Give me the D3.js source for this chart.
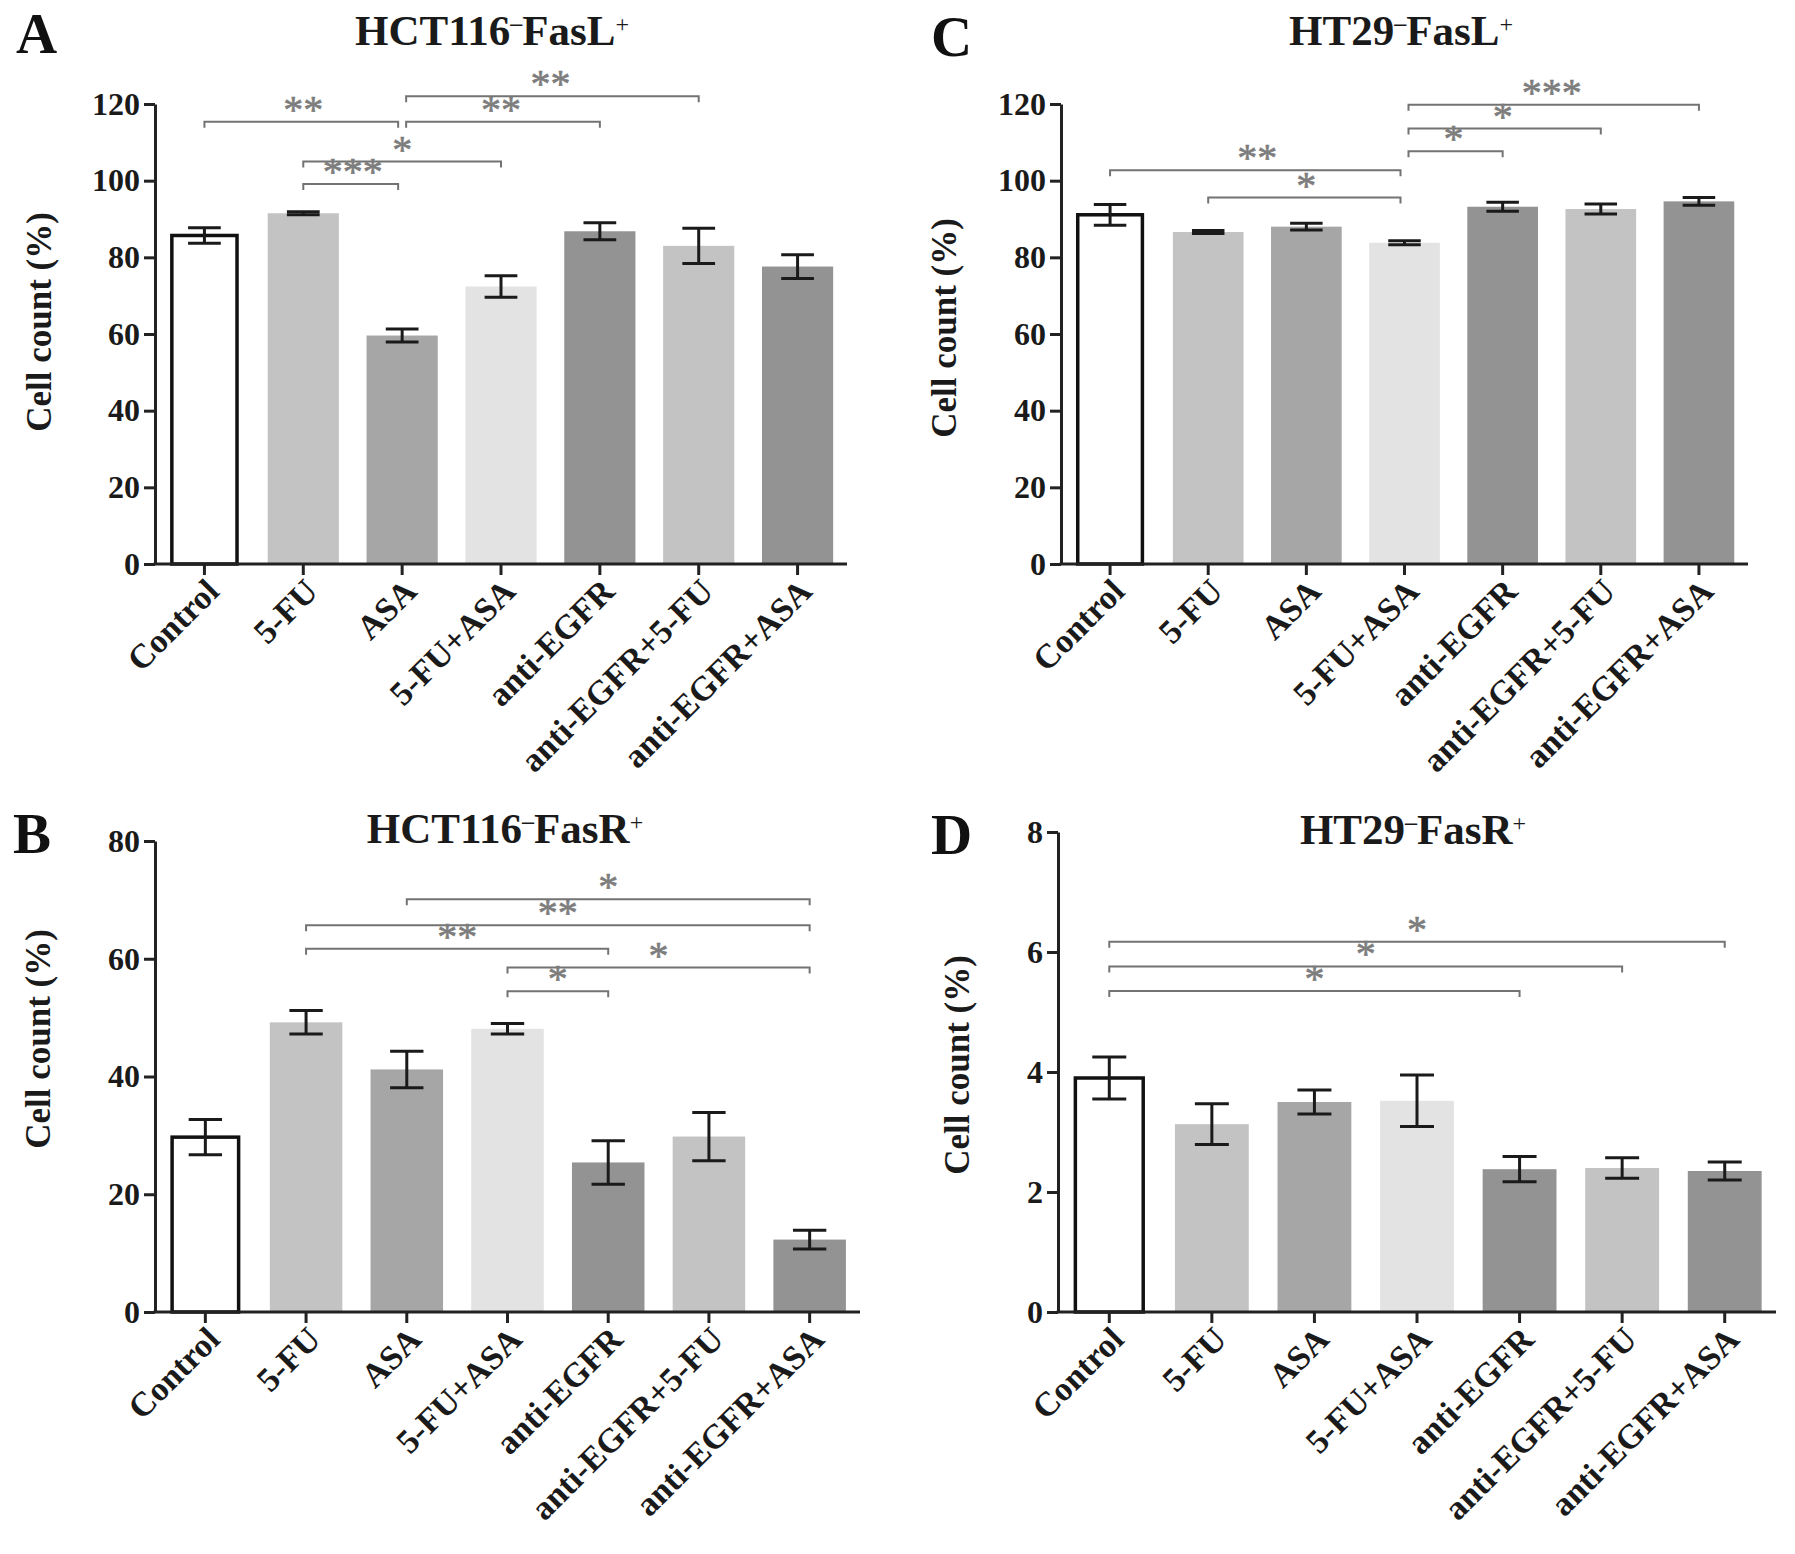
<!DOCTYPE html>
<html>
<head>
<meta charset="utf-8">
<script src="https://cdn.jsdelivr.net/npm/d3@7/dist/d3.min.js"></script>
<style>
  body { margin: 0; background: #fff; }
  svg { display: block; }
  text { font-family: "Liberation Serif", "Times New Roman", serif; }
</style>
</head>
<body>
<svg id="fig" width="1795" height="1554"></svg>
<script>
// treatment groups, same order in every panel
const groups = ["Control", "5-FU", "ASA", "5-FU+ASA", "anti-EGFR", "anti-EGFR+5-FU", "anti-EGFR+ASA"];
const barFills = ["#ffffff", "#c3c3c3", "#a6a6a6", "#e3e3e3", "#939393", "#c3c3c3", "#939393"];

// A: HCT116- FasL+
const meanA = [85.7, 91.5, 59.6, 72.4, 86.8, 83.0, 77.6];
const semA = [2.0, 0.4, 1.7, 2.8, 2.2, 4.6, 3.1];
// [from, to, level, stars]
const sigA = [[2, 5, 122.0, "**"], [0, 2, 115.4, "**"], [2, 4, 115.4, "**"], [1, 3, 105.0, "*"], [1, 2, 99.1, "***"]];

// B: HCT116- FasR+
const meanB = [29.7, 49.2, 41.2, 48.1, 25.4, 29.8, 12.3];
const semB = [3.0, 2.0, 3.1, 0.9, 3.7, 4.1, 1.6];
const sigB = [[2, 6, 70.1, "*"], [1, 6, 65.7, "**"], [1, 4, 61.7, "**"], [3, 6, 58.5, "*"], [3, 4, 54.5, "*"]];

// C: HT29- FasL+
const meanC = [91.1, 86.6, 88.0, 83.8, 93.2, 92.6, 94.6];
const semC = [2.7, 0.4, 0.9, 0.5, 1.2, 1.3, 1.0];
const sigC = [[3, 6, 119.8, "***"], [3, 5, 113.6, "*"], [3, 4, 107.7, "*"], [0, 3, 102.7, "**"], [1, 3, 95.6, "*"]];

// D: HT29- FasR+
const meanD = [3.90, 3.13, 3.50, 3.52, 2.38, 2.40, 2.35];
const semD = [0.35, 0.34, 0.20, 0.43, 0.21, 0.17, 0.15];
const sigD = [[0, 6, 6.17, "*"], [0, 5, 5.76, "*"], [0, 4, 5.35, "*"]];

const ticks120 = [0, 20, 40, 60, 80, 100, 120];
const ticks80 = [0, 20, 40, 60, 80];
const ticks8 = [0, 2, 4, 6, 8];

const panels = [
  { letter: "A", cell: "HCT116", rec: "FasL", mean: meanA, sem: semA, sig: sigA, yMax: 120, ticks: ticks120,
    xr: [155, 847], yr: [564, 104], letterAt: [16, 53], titleAt: [492, 45], ylabAt: [39, 322] },
  { letter: "B", cell: "HCT116", rec: "FasR", mean: meanB, sem: semB, sig: sigB, yMax: 80, ticks: ticks80,
    xr: [155, 860], yr: [1312, 841], letterAt: [13, 853], titleAt: [505, 843], ylabAt: [38, 1039] },
  { letter: "C", cell: "HT29", rec: "FasL", mean: meanC, sem: semC, sig: sigC, yMax: 120, ticks: ticks120,
    xr: [1061, 1748], yr: [564, 104], letterAt: [931, 56], titleAt: [1401, 45], ylabAt: [944, 328] },
  { letter: "D", cell: "HT29", rec: "FasR", mean: meanD, sem: semD, sig: sigD, yMax: 8, ticks: ticks8,
    xr: [1058, 1776], yr: [1312, 832], letterAt: [931, 854], titleAt: [1413, 844], ylabAt: [957, 1065] }
];

const svg = d3.select("#fig");

function drawPanel(p) {
  const g = svg.append("g");
  const x = d3.scaleBand().domain(groups).range(p.xr).paddingInner(0.28).paddingOuter(0.14);
  const y = d3.scaleLinear().domain([0, p.yMax]).range(p.yr);
  const rows = groups.map((name, i) => ({ name, i, mean: p.mean[i], sem: p.sem[i], fill: barFills[i] }));
  const bw = x.bandwidth();

  // bars
  g.selectAll("rect.bar").data(rows).join("rect")
    .attr("class", "bar")
    .attr("x", d => d.i === 0 ? x(d.name) + 3 : x(d.name))
    .attr("width", d => d.i === 0 ? bw - 6 : bw)
    .attr("y", d => y(d.mean))
    .attr("height", d => y(0) - y(d.mean))
    .attr("fill", d => d.fill)
    .attr("stroke", d => d.i === 0 ? "#111" : "none")
    .attr("stroke-width", 3.5);

  // error bars
  const cap = bw * 0.23;
  const eb = g.selectAll("g.err").data(rows).join("g").attr("class", "err")
    .attr("stroke", "#1a1a1a").attr("stroke-width", 3);
  eb.append("line")
    .attr("x1", d => x(d.name) + bw / 2).attr("x2", d => x(d.name) + bw / 2)
    .attr("y1", d => y(d.mean - d.sem)).attr("y2", d => y(d.mean + d.sem));
  eb.append("line")
    .attr("x1", d => x(d.name) + bw / 2 - cap).attr("x2", d => x(d.name) + bw / 2 + cap)
    .attr("y1", d => y(d.mean + d.sem)).attr("y2", d => y(d.mean + d.sem));
  eb.append("line")
    .attr("x1", d => x(d.name) + bw / 2 - cap).attr("x2", d => x(d.name) + bw / 2 + cap)
    .attr("y1", d => y(d.mean - d.sem)).attr("y2", d => y(d.mean - d.sem));

  // axes
  const yAxis = g.append("g").attr("transform", `translate(${p.xr[0]},0)`)
    .call(d3.axisLeft(y).tickValues(p.ticks).tickSize(11).tickSizeOuter(0).tickPadding(4));
  const xAxis = g.append("g").attr("transform", `translate(0,${p.yr[0]})`)
    .call(d3.axisBottom(x).tickSize(11).tickSizeOuter(0).tickFormat(""));
  [yAxis, xAxis].forEach(a => {
    a.select(".domain").attr("stroke", "#222").attr("stroke-width", 3);
    a.selectAll(".tick line").attr("stroke", "#222").attr("stroke-width", 3);
  });
  xAxis.select(".domain").attr("d", `M${p.xr[0] - 1.5},0H${p.xr[1]}`);
  yAxis.selectAll(".tick text")
    .attr("font-family", "Liberation Serif, serif").attr("font-size", 32).attr("font-weight", "bold")
    .attr("fill", "#1a1a1a");

  // rotated group labels
  g.selectAll("text.xl").data(rows).join("text")
    .attr("class", "xl")
    .attr("transform", d => `translate(${x(d.name) + bw / 2 + 8},${p.yr[0] + 21}) rotate(-45)`)
    .attr("text-anchor", "end")
    .attr("dy", "0.35em")
    .attr("font-size", 34).attr("font-weight", "bold").attr("fill", "#1a1a1a")
    .text(d => d.name);

  // y label
  g.append("text")
    .attr("transform", `translate(${p.ylabAt[0]},${p.ylabAt[1]}) rotate(-90)`)
    .attr("text-anchor", "middle").attr("dy", "0.35em")
    .attr("font-size", 35).attr("font-weight", "bold").attr("fill", "#1a1a1a")
    .text("Cell count (%)");

  // title with superscripts
  const t = g.append("text")
    .attr("x", p.titleAt[0]).attr("y", p.titleAt[1])
    .attr("text-anchor", "middle")
    .attr("font-size", 43).attr("font-weight", "bold").attr("fill", "#1a1a1a");
  t.append("tspan").text(p.cell);
  t.append("tspan").attr("baseline-shift", "60%").attr("font-size", 24).text("\u2013");
  t.append("tspan").text(p.rec);
  t.append("tspan").attr("baseline-shift", "55%").attr("font-size", 24).attr("font-weight", "normal").text("+");

  // panel letter
  g.append("text")
    .attr("x", p.letterAt[0]).attr("y", p.letterAt[1])
    .attr("font-size", 57).attr("font-weight", "bold").attr("fill", "#111")
    .text(p.letter);

  // significance brackets
  const cx = i => x(groups[i]) + bw / 2;
  const endsAt = new Set(p.sig.map(s => s[1]));
  const startsAt = new Set(p.sig.map(s => s[0]));
  const br = g.selectAll("g.sig").data(p.sig).join("g").attr("class", "sig");
  br.append("path")
    .attr("fill", "none").attr("stroke", "#737373").attr("stroke-width", 2)
    .attr("d", s => {
      const x1 = cx(s[0]) + (endsAt.has(s[0]) ? 4 : 0);
      const x2 = cx(s[1]) - (startsAt.has(s[1]) ? 4 : 0);
      const yy = y(s[2]);
      return `M${x1},${yy + 6}V${yy}H${x2}V${yy + 6}`;
    });
  br.append("text")
    .attr("x", s => (cx(s[0]) + cx(s[1])) / 2)
    .attr("y", s => y(s[2]) + 1)
    .attr("text-anchor", "middle")
    .attr("font-size", 40).attr("fill", "#7d7d7d")
    .attr("stroke", "#7d7d7d").attr("stroke-width", 0.6)
    .text(s => s[3]);
}

panels.forEach(drawPanel);
</script>
</body>
</html>
